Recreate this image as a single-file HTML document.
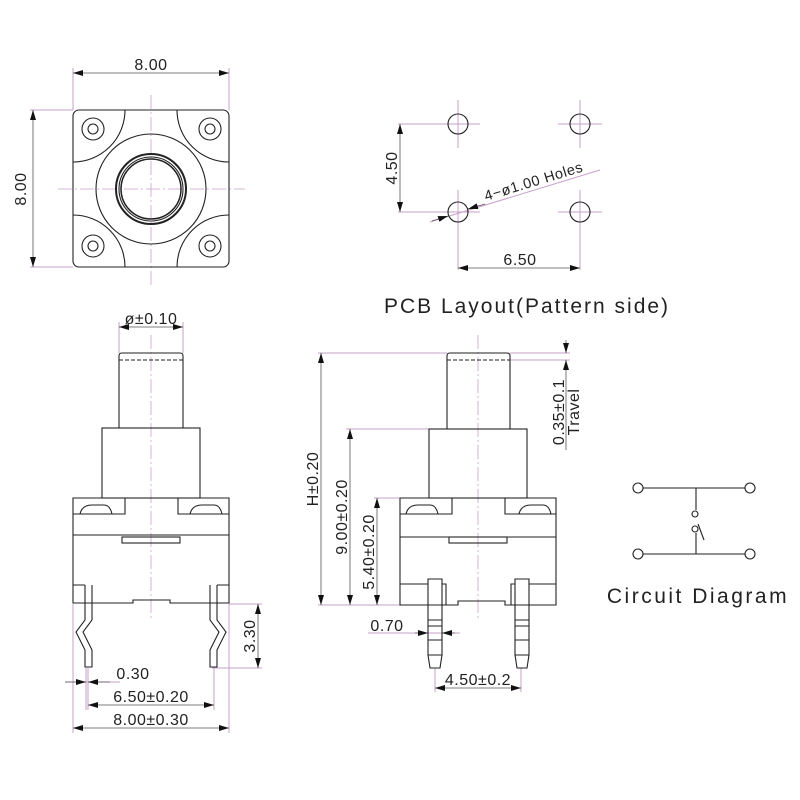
<!DOCTYPE html>
<html><head><meta charset="utf-8"><style>
html,body{margin:0;padding:0;background:#fff;}
svg{display:block;}
text{font-family:"Liberation Sans",sans-serif;fill:#222;}
</style></head><body>
<svg width="800" height="800" viewBox="0 0 800 800" xmlns="http://www.w3.org/2000/svg">
<defs>
<marker id="a" viewBox="0 0 10 6" refX="10" refY="3" markerWidth="10" markerHeight="6" orient="auto-start-reverse" markerUnits="userSpaceOnUse"><path d="M0,0 L10,3 L0,6 z" fill="#111"/></marker>
</defs>
<g fill="none" stroke="#c9a0c9" stroke-width="1">
<line x1="73" y1="68" x2="73" y2="110"/><line x1="229" y1="68" x2="229" y2="110"/>
<line x1="30" y1="110" x2="73" y2="110"/><line x1="30" y1="267" x2="73" y2="267"/>
<path d="M458,100V148M436,124H480M580,100V148M558,124H602M458,190V270M436,212H480M580,190V270M558,212H602"/>
<line x1="398" y1="124" x2="438" y2="124"/><line x1="398" y1="212" x2="438" y2="212"/>
<line x1="430" y1="222" x2="600" y2="170"/>
<line x1="119" y1="322" x2="119" y2="353"/><line x1="183" y1="322" x2="183" y2="353"/>
<line x1="229" y1="604" x2="262" y2="604"/><line x1="212" y1="668" x2="262" y2="668"/>
<line x1="73" y1="604" x2="73" y2="733"/><line x1="229" y1="604" x2="229" y2="733"/>
<line x1="86" y1="668" x2="86" y2="710"/><line x1="88" y1="668" x2="88" y2="710"/><line x1="214" y1="668" x2="214" y2="710"/>
<line x1="65" y1="682" x2="120" y2="682"/>
<line x1="318" y1="353" x2="447" y2="353"/><line x1="346" y1="429" x2="429" y2="429"/>
<line x1="374" y1="498" x2="400" y2="498"/><line x1="318" y1="605" x2="400" y2="605"/>
<line x1="510" y1="353" x2="570" y2="353"/><line x1="510" y1="360" x2="570" y2="360"/>
<line x1="435" y1="668" x2="435" y2="692"/><line x1="521" y1="668" x2="521" y2="692"/>
<line x1="368" y1="633" x2="460" y2="633"/>
</g>
<g stroke="#c9a0c9" stroke-width="0.8" stroke-dasharray="14,3,2,3" fill="none">
<line x1="58" y1="189" x2="245" y2="189"/><line x1="151" y1="95" x2="151" y2="285"/>
<line x1="151" y1="335" x2="151" y2="620"/><line x1="478" y1="335" x2="478" y2="620"/>
</g>
<g stroke="#555" stroke-width="0.8" fill="none" marker-start="url(#a)" marker-end="url(#a)">
<line x1="73" y1="73" x2="229" y2="73"/>
<line x1="33" y1="110" x2="33" y2="267"/>
<line x1="400" y1="124" x2="400" y2="212"/>
<line x1="458" y1="268" x2="580" y2="268"/>
<line x1="119" y1="327" x2="183" y2="327"/>
<line x1="258" y1="604" x2="258" y2="668"/>
<line x1="88" y1="705" x2="214" y2="705"/>
<line x1="73" y1="728" x2="229" y2="728"/>
<line x1="321" y1="353" x2="321" y2="605"/>
<line x1="350" y1="429" x2="350" y2="605"/>
<line x1="377" y1="498" x2="377" y2="605"/>
<line x1="435" y1="688" x2="521" y2="688"/>
</g>
<g stroke="#555" stroke-width="0.8" fill="none">
<line x1="65" y1="682" x2="86" y2="682" marker-end="url(#a)"/>
<line x1="110" y1="682" x2="88" y2="682" marker-end="url(#a)"/>
<line x1="566" y1="340" x2="566" y2="353" marker-end="url(#a)"/>
<line x1="566" y1="450" x2="566" y2="360" marker-end="url(#a)"/>
<line x1="415" y1="633" x2="428" y2="633" marker-end="url(#a)"/>
<line x1="455" y1="633" x2="442" y2="633" marker-end="url(#a)"/>
<line x1="432" y1="221" x2="448" y2="216" marker-end="url(#a)"/>
<line x1="485" y1="204" x2="468" y2="209" marker-end="url(#a)"/>
</g>
<g stroke="#222" stroke-width="1.1" fill="none">
<rect x="73" y="110" width="156" height="157" rx="6"/>
<path d="M125,110 A52,52 0 0 1 73,162"/><path d="M177,110 A52,52 0 0 0 229,162"/>
<path d="M73,215 A52,52 0 0 1 125,267"/><path d="M229,215 A52,52 0 0 0 177,267"/>
<circle cx="151" cy="189" r="55"/>
<circle cx="151" cy="189" r="35" stroke-width="2"/><circle cx="151" cy="189" r="32"/><circle cx="151" cy="189" r="30" stroke-width="1.5"/>
<circle cx="93" cy="129" r="11"/><circle cx="93" cy="129" r="5"/>
<circle cx="210" cy="129" r="11"/><circle cx="210" cy="129" r="5"/>
<circle cx="93" cy="246" r="11"/><circle cx="93" cy="246" r="5"/>
<circle cx="210" cy="246" r="11"/><circle cx="210" cy="246" r="5"/>
<circle cx="458" cy="124" r="10"/><circle cx="580" cy="124" r="10"/>
<circle cx="458" cy="212" r="10"/><circle cx="580" cy="212" r="10"/>
</g>
<g stroke="#222" stroke-width="1.1" fill="none">
<path d="M119,428V356Q119,353 122,353H180Q183,353 183,356V428"/>
<line x1="119" y1="360" x2="183" y2="360" stroke-dasharray="4,2"/>
<rect x="102" y="428" width="98" height="70"/>
<path d="M73,498H229V603H170V600H133V603H73Z"/>
<path d="M73,514H125V498M229,514H178V498M73,535H229"/>
<path d="M80,514Q82,505 92,505H104Q110,505 112,514M190,514Q192,505 202,505H214Q220,505 222,514"/>
<rect x="122" y="537" width="58" height="6"/>
<path d="M73,585H85M229,585H217"/>
<path d="M85,585V620L76,632L85,650V667H92V650L83,632L92,620V585"/>
<path d="M217,585V620L226,632L217,650V667H210V650L219,632L210,620V585"/>
<path d="M447,429V356Q447,353 450,353H507Q510,353 510,356V429"/>
<line x1="447" y1="360" x2="510" y2="360" stroke-dasharray="4,2"/>
<rect x="429" y="429" width="98" height="69"/>
<path d="M400,498H556V605H505V601H458V605H400Z"/>
<path d="M400,514H452V498M556,514H505V498M400,537H556"/>
<path d="M406,514Q408,505 418,505H430Q436,505 438,514M519,514Q521,505 531,505H543Q549,505 551,514"/>
<rect x="449" y="537" width="58" height="6"/>
<path d="M400,584H428M442,584H446V605M556,584H529M515,584H511V605"/>
<path d="M428,579H442V655L440,668H430L428,655Z"/>
<path d="M515,579H529V655L527,668H517L515,655Z"/>
<path d="M428,620H442M428,626H442M428,640H442M428,655H442M515,620H529M515,626H529M515,640H529M515,655H529"/>
<circle cx="638" cy="488" r="5"/><circle cx="750" cy="488" r="5"/>
<circle cx="638" cy="554" r="5"/><circle cx="750" cy="554" r="5"/>
<path d="M643,488H745M643,554H745M696,488V510M696,533V554M698,524L704,540"/>
<circle cx="695" cy="514" r="3"/><circle cx="695" cy="529" r="3"/>
</g>
<g font-size="16" letter-spacing="0.5">
<text x="151" y="70" text-anchor="middle">8.00</text>
<text transform="translate(26,189) rotate(-90)" text-anchor="middle">8.00</text>
<text transform="translate(397,168) rotate(-90)" text-anchor="middle">4.50</text>
<text x="520" y="265" text-anchor="middle">6.50</text>
<text transform="translate(486,201) rotate(-17)" font-size="14.5" letter-spacing="0.6">4−ø1.00  Holes</text>
<text x="527" y="313" text-anchor="middle" font-size="21" letter-spacing="2">PCB Layout(Pattern side)</text>
<text x="151" y="324" text-anchor="middle">ø±0.10</text>
<text transform="translate(255,636) rotate(-90)" text-anchor="middle">3.30</text>
<text x="133" y="679" text-anchor="middle">0.30</text>
<text x="151" y="702" text-anchor="middle">6.50±0.20</text>
<text x="151" y="725" text-anchor="middle">8.00±0.30</text>
<text transform="translate(318,479) rotate(-90)" text-anchor="middle">H±0.20</text>
<text transform="translate(347,517) rotate(-90)" text-anchor="middle">9.00±0.20</text>
<text transform="translate(374,552) rotate(-90)" text-anchor="middle">5.40±0.20</text>
<text transform="translate(564,412) rotate(-90)" text-anchor="middle">0.35±0.1</text>
<text transform="translate(579,412) rotate(-90)" text-anchor="middle">Travel</text>
<text x="387" y="631" text-anchor="middle">0.70</text>
<text x="478" y="685" text-anchor="middle">4.50±0.2</text>
<text x="698" y="603" text-anchor="middle" font-size="21" letter-spacing="2.5">Circuit Diagram</text>
</g>
</svg>
</body></html>
